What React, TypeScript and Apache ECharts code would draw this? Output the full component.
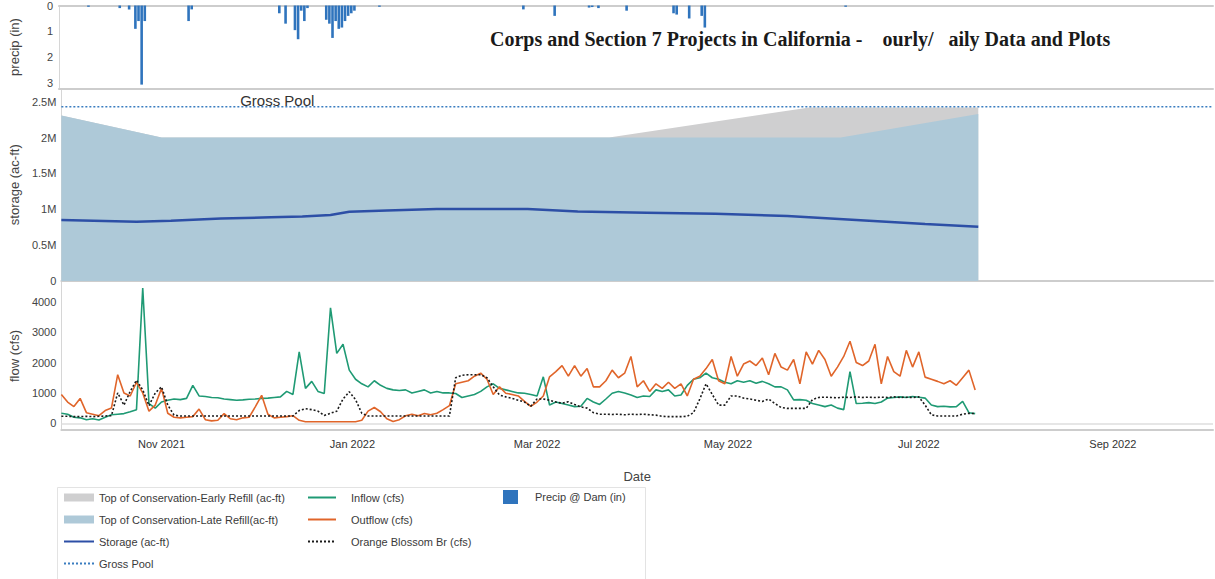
import React, { useEffect, useRef } from 'react';
import * as echarts from 'echarts';

// ---- axis window (water year 2022) ----
const AXIS_START = '2021-09-30';
const AXIS_END = '2022-10-03';

// ---- precipitation at the dam, inches ----
const precipDays: string[] = [
  '2021-10-09', '2021-10-19', '2021-10-22', '2021-10-24', '2021-10-25', '2021-10-26', '2021-10-27',
  '2021-11-10', '2021-11-11',
  '2021-12-09', '2021-12-11', '2021-12-14', '2021-12-15', '2021-12-16', '2021-12-17', '2021-12-18',
  '2021-12-24', '2021-12-25', '2021-12-26', '2021-12-27', '2021-12-28', '2021-12-29', '2021-12-30',
  '2021-12-31', '2022-01-01', '2022-01-02', '2022-01-10',
  '2022-02-25', '2022-03-07', '2022-03-18', '2022-03-19', '2022-03-21', '2022-03-30',
  '2022-04-14', '2022-04-15', '2022-04-19', '2022-04-23', '2022-04-24', '2022-06-08',
];
const precipInches: number[] = [
  0.05, 0.1, 0.15, 0.9, 0.6, 3.05, 0.6,
  0.6, 0.15,
  0.3, 0.7, 0.95, 1.3, 0.2, 0.6, 0.1,
  0.55, 0.7, 1.25, 0.6, 0.9, 0.85, 0.6,
  0.4, 0.3, 0.2, 0.05,
  0.15, 0.4, 0.08, 0.06, 0.1, 0.2,
  0.3, 0.35, 0.5, 0.4, 0.85, 0.05,
];

// ---- storage and flood-control curves, acre-feet ----
const storageDays: string[] = [
  '2021-09-30', '2021-10-24', '2021-11-04', '2021-11-20', '2021-12-06', '2021-12-16', '2021-12-25',
  '2021-12-31', '2022-01-12', '2022-01-28', '2022-02-26', '2022-03-14', '2022-04-05', '2022-04-27',
  '2022-05-20', '2022-06-11', '2022-07-03', '2022-07-20',
];
const storageAcFt: number[] = [
  850000, 828000, 840000, 872000, 888000, 898000, 920000,
  965000, 985000, 1003000, 1003000, 968000, 953000, 938000,
  905000, 850000, 795000, 757000,
];

const earlyRefillDays: string[] = ['2021-09-30', '2021-11-01', '2022-03-24', '2022-05-27', '2022-07-20'];
const earlyRefillAcFt: number[] = [2310000, 2000000, 2000000, 2420000, 2420000];

const lateRefillDays: string[] = ['2021-09-30', '2021-11-01', '2022-06-06', '2022-07-20'];
const lateRefillAcFt: number[] = [2310000, 2000000, 2000000, 2330000];

const GROSS_POOL_ACFT = 2430000;
const GROSS_POOL_LABEL_DAY = '2021-12-08';

// ---- daily flows, cfs: one value every second day from FLOW_START ----
const FLOW_START = '2021-09-30';
const FLOW_STEP_DAYS = 2;

const inflowCfs: number[] = [
  330, 300, 200, 180, 120, 150, 110, 200, 280, 300,
  320, 380, 450, 4450, 650, 500, 700, 760, 800, 780,
  820, 1250, 900, 880, 850, 840, 800, 780, 760, 770,
  790, 800, 820, 830, 850, 870, 1050, 950, 2350, 1150,
  1380, 1050, 980, 3800, 2300, 2600, 1750, 1450, 1300, 1200,
  1400, 1250, 1150, 1100, 1080, 1100, 1000, 1050, 1100, 1000,
  1050, 1000, 1000, 980, 850, 900, 950, 1050, 1200, 1300,
  1150, 1100, 1050, 1000, 990, 950, 900, 1530, 600, 700,
  650, 600, 550, 560, 820, 700, 620, 800, 990, 1050,
  1000, 930, 850, 900, 880, 1100, 1050, 1100, 900, 930,
  1250, 1450, 1500, 1650, 1500, 1450, 1350, 1300, 1400, 1350,
  1400, 1320, 1380, 1300, 1200, 1200, 1100, 770, 780, 760,
  650, 600, 550, 600, 500, 450, 1700, 650, 660, 680,
  650, 700, 830, 850, 870, 850, 880, 860, 830, 600,
  550, 560, 540, 550, 720, 350, 320,
];

const outflowCfs: number[] = [
  950, 700, 550, 820, 350, 300, 250, 420, 500, 1600,
  1000, 900, 1350, 1000, 400, 600, 1150, 330, 200, 180,
  200, 220, 470, 120, 80, 100, 320, 150, 120, 180,
  200, 550, 920, 300, 180, 200, 220, 250, 100, 50,
  50, 50, 50, 50, 50, 50, 50, 50, 100, 400,
  520, 380, 150, 60, 120, 250, 300, 250, 320, 280,
  330, 450, 580, 1300, 1350, 1400, 1550, 1650, 1450, 950,
  1200, 990, 950, 900, 720, 560, 700, 900, 1530, 1700,
  1900, 1550, 1900, 1550, 1800, 1200, 1200, 1400, 1750, 1500,
  1650, 2200, 1200, 1400, 1050, 1300, 1150, 1350, 1150, 1300,
  900, 1450, 1550, 1800, 2100, 1400, 1300, 2200, 1550, 1950,
  2050, 1900, 2150, 1600, 2300, 1850, 1750, 2100, 1300, 2350,
  1950, 2400, 2100, 1550, 1850, 2200, 2700, 2000, 1900, 2050,
  2600, 1300, 2200, 1700, 1550, 2400, 1850, 2350, 1520, 1450,
  1380, 1300, 1400, 1250, 1500, 1750, 1100,
];

const orangeBlossomCfs: number[] = [
  230, 230, 220, 220, 230, 220, 230, 240, 250, 1000,
  600, 1050, 1420, 1100, 580, 1000, 1200, 600, 270, 240,
  240, 240, 240, 240, 240, 240, 240, 240, 240, 240,
  240, 240, 240, 240, 240, 240, 240, 240, 420, 480,
  450, 400, 260, 330, 400, 800, 1040, 780, 330, 240,
  240, 240, 240, 240, 240, 240, 240, 240, 240, 240,
  240, 240, 240, 1500, 1580, 1600, 1600, 1600, 1500, 1200,
  930, 870, 820, 760, 700, 560, 800, 800, 760, 700,
  660, 710, 620, 540, 500, 350, 300, 300, 290, 300,
  280, 300, 290, 300, 280, 270, 230, 220, 220, 220,
  230, 350, 800, 1300, 950, 600, 600, 900, 900, 830,
  800, 760, 720, 800, 650, 520, 490, 490, 490, 490,
  780, 850, 860, 850, 840, 860, 850, 870, 850, 860,
  850, 860, 850, 870, 850, 860, 850, 870, 600, 280,
  240, 240, 240, 240, 300, 330, 320,
];

// ---- labels ----
const TITLE =
  'Corps and Section 7 Projects in California -\u00a0\u00a0\u00a0\u00a0ourly/\u00a0\u00a0\u00a0aily Data and Plots';
const MONTHS = ['Jan', 'Feb', 'Mar', 'Apr', 'May', 'Jun', 'Jul', 'Aug', 'Sep', 'Oct', 'Nov', 'Dec'];
const N_EARLY = 'Top of Conservation-Early Refill (ac-ft)';
const N_LATE = 'Top of Conservation-Late Refill(ac-ft)';
const N_STORAGE = 'Storage (ac-ft)';
const N_GROSS = 'Gross Pool';
const N_INFLOW = 'Inflow (cfs)';
const N_OUTFLOW = 'Outflow (cfs)';
const N_OBB = 'Orange Blossom Br (cfs)';
const N_PRECIP = 'Precip @ Dam (in)';

const FONT = '"Liberation Sans", Arial, sans-serif';

function ts(s: string): number {
  const [y, m, d] = s.split('-').map(Number);
  return new Date(y, m - 1, d).getTime();
}

function zip(days: string[], vals: number[]): [number, number][] {
  return vals.map((v, i) => [ts(days[i]), v]);
}

function flowSeries(vals: number[]): [number, number][] {
  const [y, m, d] = FLOW_START.split('-').map(Number);
  return vals.map((v, i) => [new Date(y, m - 1, d + i * FLOW_STEP_DAYS).getTime(), v]);
}

const BORDER = '#cdcdcd';

function timeAxis(gridIndex: number, position: 'top' | 'bottom', withLabels: boolean): any {
  return {
    type: 'time',
    gridIndex,
    position,
    min: ts(AXIS_START),
    max: ts(AXIS_END),
    splitNumber: 12,
    axisLine: { show: true, onZero: false, lineStyle: { color: BORDER, width: 2 } },
    axisTick: { show: false },
    splitLine: { show: false },
    axisLabel: withLabels
      ? {
          show: true,
          fontSize: 11,
          color: '#333',
          margin: 8,
          fontFamily: FONT,
          formatter: (value: number) => {
            const dt = new Date(value);
            if (dt.getDate() !== 1 || dt.getHours() !== 0) return '';
            const m = dt.getMonth();
            if (m % 2 !== 0) return '';
            return `${MONTHS[m]} ${dt.getFullYear()}`;
          },
        }
      : { show: false },
    name: withLabels ? 'Date' : '',
    nameLocation: 'middle',
    nameGap: 40,
    nameTextStyle: { fontSize: 13, color: '#444', fontFamily: FONT },
  };
}

function valueAxis(gridIndex: number, name: string, extra: any): any {
  return {
    type: 'value',
    gridIndex,
    name,
    nameLocation: 'middle',
    nameGap: 38,
    nameRotate: 90,
    nameTextStyle: { fontSize: 13, color: '#444', fontFamily: FONT },
    axisLine: { show: true, lineStyle: { color: '#d6d6d6', width: 1 } },
    axisTick: { show: false },
    splitLine: { show: false },
    ...extra,
  };
}

// legend entries for line series: line only, no marker
const lineEntry = (name: string) => ({ name, itemStyle: { opacity: 0 } });

export default function App() {
  const ref = useRef<HTMLDivElement>(null);

  useEffect(() => {
    if (!ref.current) return;
    const chart = echarts.init(ref.current, undefined, { renderer: 'svg' });

    const legendText = { fontSize: 11, color: '#3a3a3a', fontFamily: FONT };

    chart.setOption({
      animation: false,
      backgroundColor: '#ffffff',
      textStyle: { fontFamily: FONT },
      title: {
        text: TITLE,
        left: 485,
        top: 24,
        textStyle: {
          fontFamily: '"Liberation Serif", "Times New Roman", serif',
          fontWeight: 'bold',
          fontSize: 20,
          color: '#1a1a1a',
        },
      },
      grid: [
        { left: 57.5, right: 2, top: 4.5, height: 84 },
        { left: 57.5, right: 2, top: 88.5, height: 192.5 },
        { left: 57.5, right: 2, top: 282, height: 148 },
      ],
      xAxis: [
        timeAxis(0, 'top', false),
        timeAxis(0, 'bottom', false),
        timeAxis(1, 'bottom', false),
        timeAxis(2, 'bottom', true),
      ],
      yAxis: [
        valueAxis(0, 'precip (in)', {
          inverse: true,
          min: 0,
          max: 3.2,
          interval: 1,
          axisLabel: {
            fontSize: 11,
            color: '#444',
            margin: 6,
            formatter: (v: number) => (Number.isInteger(v) ? String(v) : ''),
          },
        }),
        valueAxis(1, 'storage (ac-ft)', {
          min: 0,
          max: 2685000,
          interval: 500000,
          axisLabel: {
            fontSize: 11,
            color: '#444',
            margin: 5,
            formatter: (v: number) => {
              if (v === 0) return '0';
              if (v % 500000 !== 0) return '';
              return `${v / 1000000}M`;
            },
          },
        }),
        valueAxis(2, 'flow (cfs)', {
          min: -220,
          max: 4650,
          splitNumber: 5,
          axisLabel: {
            fontSize: 11,
            color: '#444',
            margin: 5,
            formatter: (v: number) => (v >= 0 && v % 1000 === 0 ? String(Math.abs(v)) : ''),
          },
        }),
      ],
      legend: [
        {
          orient: 'vertical',
          left: 63,
          top: 492,
          padding: 0,
          itemWidth: 30,
          itemHeight: 8,
          itemGap: 11,
          selectedMode: false,
          textStyle: legendText,
          data: [
            { name: N_EARLY, icon: 'rect' },
            { name: N_LATE, icon: 'rect' },
            lineEntry(N_STORAGE),
            lineEntry(N_GROSS),
          ],
        },
        {
          orient: 'vertical',
          left: 307,
          top: 492,
          padding: 0,
          itemWidth: 28,
          itemHeight: 8,
          itemGap: 11,
          selectedMode: false,
          textStyle: { ...legendText, padding: [0, 0, 0, 10] },
          data: [lineEntry(N_INFLOW), lineEntry(N_OUTFLOW), lineEntry(N_OBB)],
        },
        {
          orient: 'vertical',
          left: 503,
          top: 490,
          padding: 0,
          itemWidth: 15,
          itemHeight: 14,
          selectedMode: false,
          textStyle: { ...legendText, padding: [0, 0, 0, 12] },
          data: [{ name: N_PRECIP, icon: 'rect' }],
        },
      ],
      graphic: [
        {
          type: 'rect',
          silent: true,
          shape: { x: 57.5, y: 487.5, width: 588, height: 110 },
          style: { fill: 'none', stroke: '#e3e3e3', lineWidth: 1 },
        },
      ],
      series: [
        {
          name: N_PRECIP,
          type: 'bar',
          xAxisIndex: 0,
          yAxisIndex: 0,
          barWidth: 2.6,
          itemStyle: { color: '#2f74bd' },
          data: zip(precipDays, precipInches),
        },
        {
          name: N_EARLY,
          type: 'line',
          xAxisIndex: 2,
          yAxisIndex: 1,
          symbol: 'none',
          z: 1,
          lineStyle: { width: 0 },
          itemStyle: { color: '#cfcfd0' },
          areaStyle: { color: '#cfcfd0', opacity: 1 },
          data: zip(earlyRefillDays, earlyRefillAcFt),
        },
        {
          name: N_LATE,
          type: 'line',
          xAxisIndex: 2,
          yAxisIndex: 1,
          symbol: 'none',
          z: 2,
          lineStyle: { width: 0 },
          itemStyle: { color: '#aec9d8' },
          areaStyle: { color: '#aec9d8', opacity: 1 },
          data: zip(lateRefillDays, lateRefillAcFt),
        },
        {
          name: N_GROSS,
          type: 'line',
          xAxisIndex: 2,
          yAxisIndex: 1,
          symbol: 'none',
          z: 3,
          itemStyle: { color: '#3a7dc0' },
          lineStyle: { color: '#3a7dc0', width: 1.5, type: [2, 2] },
          data: [
            [ts(AXIS_START), GROSS_POOL_ACFT],
            [ts(AXIS_END), GROSS_POOL_ACFT],
          ],
          markPoint: {
            silent: true,
            symbol: 'circle',
            symbolSize: 1,
            itemStyle: { color: 'rgba(0,0,0,0)' },
            label: {
              show: true,
              position: 'inside',
              offset: [0, -6],
              formatter: 'Gross Pool',
              fontSize: 15,
              color: '#333',
              fontFamily: FONT,
            },
            data: [{ coord: [ts(GROSS_POOL_LABEL_DAY), GROSS_POOL_ACFT] }],
          },
        },
        {
          name: N_STORAGE,
          type: 'line',
          xAxisIndex: 2,
          yAxisIndex: 1,
          symbol: 'none',
          z: 4,
          itemStyle: { color: '#2d4fa6' },
          lineStyle: { color: '#2d4fa6', width: 2.5 },
          data: zip(storageDays, storageAcFt),
        },
        {
          name: N_INFLOW,
          type: 'line',
          xAxisIndex: 3,
          yAxisIndex: 2,
          symbol: 'none',
          itemStyle: { color: '#1f9a74' },
          lineStyle: { color: '#1f9a74', width: 1.6 },
          data: flowSeries(inflowCfs),
          markLine: {
            silent: true,
            symbol: 'none',
            label: { show: false },
            lineStyle: { color: '#dedede', width: 1.5, type: 'solid' },
            data: [{ yAxis: 0 }],
          },
        },
        {
          name: N_OUTFLOW,
          type: 'line',
          xAxisIndex: 3,
          yAxisIndex: 2,
          symbol: 'none',
          itemStyle: { color: '#e0652a' },
          lineStyle: { color: '#e0652a', width: 1.6 },
          data: flowSeries(outflowCfs),
        },
        {
          name: N_OBB,
          type: 'line',
          xAxisIndex: 3,
          yAxisIndex: 2,
          symbol: 'none',
          itemStyle: { color: '#1a1a1a' },
          lineStyle: { color: '#1a1a1a', width: 1.6, type: [2, 2] },
          data: flowSeries(orangeBlossomCfs),
        },
      ],
    });

    return () => chart.dispose();
  }, []);

  return (
    <div
      ref={ref}
      style={{ position: 'absolute', left: 0, top: 0, width: 1215, height: 579, background: '#fff' }}
    />
  );
}
